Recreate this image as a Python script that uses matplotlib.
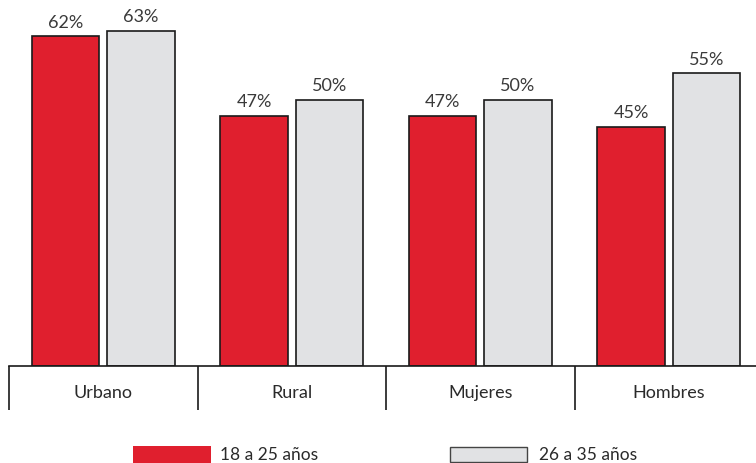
import matplotlib
matplotlib.use("Agg")
import matplotlib.pyplot as plt
from matplotlib.patches import Rectangle

categories = ["Urbano", "Rural", "Mujeres", "Hombres"]
series_names = ["18 a 25 años", "26 a 35 años"]
young = [62, 47, 47, 45]
older = [63, 50, 50, 55]

RED = "#E01F2E"
GREY = "#E1E2E4"
EDGE = "#1a1a1a"

plt.rcParams["font.family"] = ["Lato", "DejaVu Sans"]

W, H = 756, 463
fig = plt.figure(figsize=(W / 100, H / 100), dpi=100)
base_y = 366
pxper = 5.32
ytop = 68
ax_left = 9 / W
ax_w = 754 / W
ax_b = (H - base_y) / H
ax_h = pxper * ytop / H
ax = fig.add_axes([ax_left, ax_b, ax_w, ax_h])

x = list(range(len(categories)))
bw = 0.356
off = 0.2
b1 = ax.bar([i - off for i in x], young, width=bw, color=RED, edgecolor=EDGE, linewidth=1.2)
b2 = ax.bar([i + off for i in x], older, width=bw, color=GREY, edgecolor=EDGE, linewidth=1.2)

for bars, vals in ((b1, young), (b2, older)):
    for r, v in zip(bars, vals):
        ax.annotate(f"{v}%", (r.get_x() + r.get_width() / 2, r.get_height()),
                    xytext=(0, 4), textcoords="offset points", ha="center", va="bottom",
                    fontsize=13, color="#3a3a3a")

ax.set_xlim(-0.5, 3.5)
ax.set_ylim(0, ytop)
for s in ["top", "right", "left"]:
    ax.spines[s].set_visible(False)
ax.spines["bottom"].set_color(EDGE)
ax.spines["bottom"].set_linewidth(1.2)
ax.set_yticks([])
ax.set_xticks(x)
ax.set_xticklabels(categories, fontsize=13, color="#2a2a2a")
ax.tick_params(axis="x", which="major", length=0, pad=14)
ax.set_xticks([-0.5, 0.5, 1.5, 2.5], minor=True)
ax.tick_params(axis="x", which="minor", length=44 * 0.72, width=1.2, color=EDGE, direction="out")

# legend
fig.patches.append(Rectangle((133 / W, (H - 463) / H), 78 / W, 17 / H, transform=fig.transFigure,
                             facecolor=RED, edgecolor="none"))
fig.patches.append(Rectangle((450 / W, (H - 462) / H), 77 / W, 15 / H, transform=fig.transFigure,
                             facecolor=GREY, edgecolor="#444444", linewidth=1.0))
fig.text(220 / W, (H - 455) / H, series_names[0], fontsize=12.5, color="#2a2a2a", va="center", ha="left")
fig.text(539 / W, (H - 455) / H, series_names[1], fontsize=12.5, color="#2a2a2a", va="center", ha="left")

fig.savefig("out.png", dpi=100)
